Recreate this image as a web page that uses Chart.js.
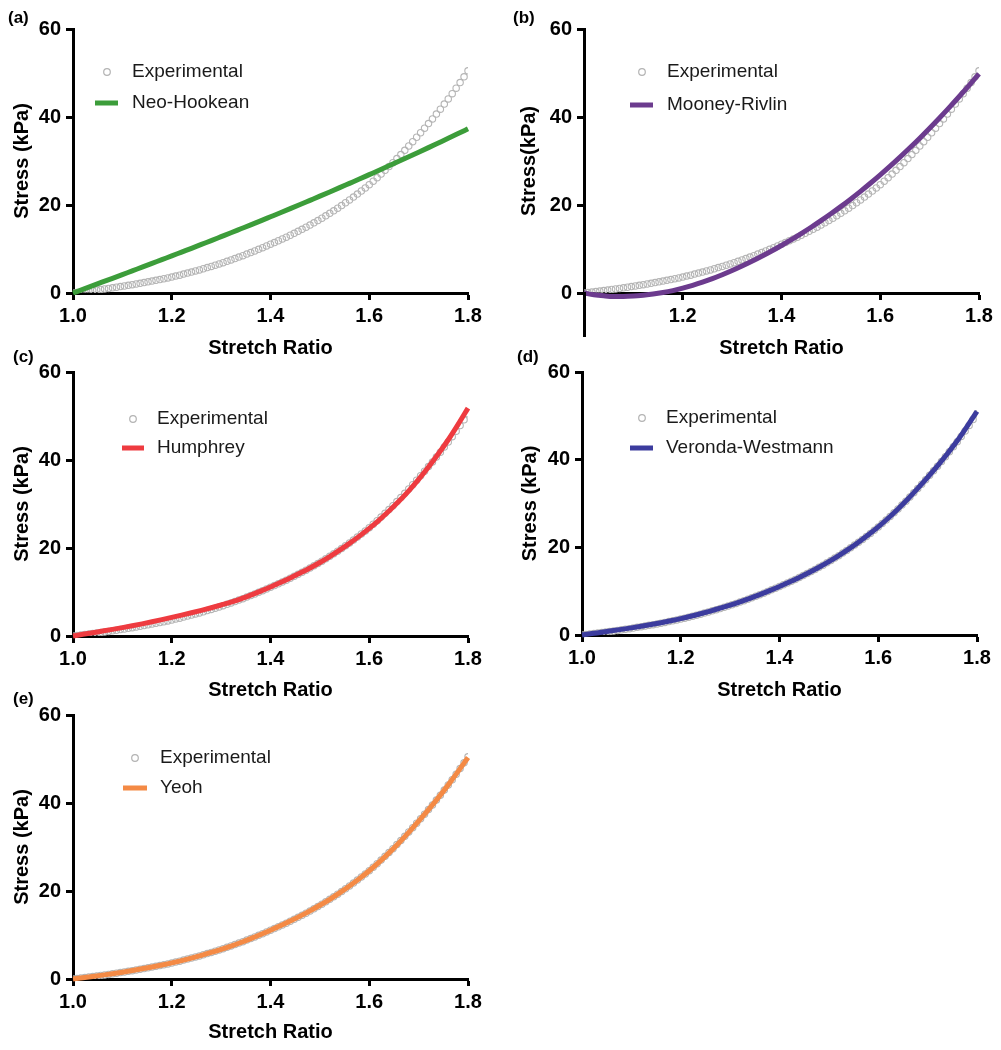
<!DOCTYPE html>
<html>
<head>
<meta charset="utf-8">
<script src="https://cdn.jsdelivr.net/npm/chart.js@4.4.1/dist/chart.umd.min.js"></script>
<style>
html,body{margin:0;padding:0;background:#fff;}
body{width:1001px;height:1050px;position:relative;overflow:hidden;font-family:"Liberation Sans",Arial,Helvetica,sans-serif;}
canvas{position:absolute;}
.lbl{position:absolute;font-weight:bold;font-size:17px;color:#000;line-height:20px;}
</style>
</head>
<body>
<canvas id="ca" width="490" height="360" style="left:0px;top:0px"></canvas>
<canvas id="cb" width="501" height="360" style="left:500px;top:0px"></canvas>
<canvas id="cc" width="490" height="362" style="left:0px;top:340px"></canvas>
<canvas id="cd" width="501" height="362" style="left:500px;top:340px"></canvas>
<canvas id="ce" width="490" height="364" style="left:0px;top:680px"></canvas>
<div class="lbl" style="left:8px;top:8px">(a)</div>
<div class="lbl" style="left:513px;top:8px">(b)</div>
<div class="lbl" style="left:13px;top:347px">(c)</div>
<div class="lbl" style="left:517px;top:347px">(d)</div>
<div class="lbl" style="left:13px;top:689px">(e)</div>
<script>
// ---------------- DATA ----------------
const stretchExp = [1.000,1.008,1.016,1.024,1.032,1.040,1.048,1.056,1.064,1.072,1.080,1.088,1.096,1.104,1.112,1.120,1.128,1.136,1.144,1.152,1.160,1.168,1.176,1.184,1.192,1.200,1.208,1.216,1.224,1.232,1.240,1.248,1.256,1.264,1.272,1.280,1.288,1.296,1.304,1.312,1.320,1.328,1.336,1.344,1.352,1.360,1.368,1.376,1.384,1.392,1.400,1.408,1.416,1.424,1.432,1.440,1.448,1.456,1.464,1.472,1.480,1.488,1.496,1.504,1.512,1.520,1.528,1.536,1.544,1.552,1.560,1.568,1.576,1.584,1.592,1.600,1.608,1.616,1.624,1.632,1.640,1.648,1.656,1.664,1.672,1.680,1.688,1.696,1.704,1.712,1.720,1.728,1.736,1.744,1.752,1.760,1.768,1.776,1.784,1.792,1.800];
const stressExp = [0,0.10,0.21,0.32,0.43,0.55,0.67,0.79,0.91,1.04,1.17,1.31,1.45,1.59,1.74,1.89,2.04,2.20,2.36,2.53,2.70,2.88,3.06,3.24,3.43,3.63,3.84,4.06,4.29,4.52,4.76,5.01,5.25,5.51,5.77,6.05,6.33,6.60,6.90,7.20,7.52,7.83,8.16,8.49,8.84,9.19,9.55,9.92,10.30,10.69,11.09,11.47,11.87,12.28,12.69,13.13,13.56,14.01,14.47,14.95,15.43,15.94,16.46,16.99,17.54,18.10,18.68,19.27,19.88,20.51,21.15,21.81,22.48,23.18,23.89,24.62,25.41,26.21,27.03,27.87,28.74,29.63,30.54,31.47,32.43,33.41,34.39,35.40,36.42,37.45,38.50,39.57,40.66,41.78,42.93,44.10,45.31,46.55,47.82,49.14,50.50];
const stretchFit = [1.00,1.02,1.04,1.06,1.08,1.10,1.12,1.14,1.16,1.18,1.20,1.22,1.24,1.26,1.28,1.30,1.32,1.34,1.36,1.38,1.40,1.42,1.44,1.46,1.48,1.50,1.52,1.54,1.56,1.58,1.60,1.62,1.64,1.66,1.68,1.70,1.72,1.74,1.76,1.78,1.80];
const neoHookean = [0,0.83,1.67,2.51,3.34,4.18,5.03,5.87,6.72,7.58,8.43,9.30,10.16,11.04,11.91,12.80,13.69,14.59,15.49,16.40,17.32,18.24,19.17,20.11,21.06,22.01,22.97,23.94,24.92,25.90,26.90,27.90,28.91,29.93,30.96,31.99,33.04,34.10,35.16,36.23,37.31];
const mooneyRivlin = [0,-0.40,-0.65,-0.80,-0.80,-0.70,-0.50,-0.25,0.10,0.55,1.10,1.75,2.47,3.27,4.15,5.10,6.12,7.20,8.34,9.54,10.80,12.12,13.50,14.94,16.44,18.00,19.63,21.33,23.10,24.94,26.85,28.83,30.88,33.00,35.19,37.45,39.78,42.18,44.65,47.19,49.80];
const humphrey = [0,0.38,0.75,1.12,1.50,1.90,2.32,2.76,3.23,3.72,4.23,4.74,5.28,5.84,6.43,7.05,7.70,8.45,9.30,10.20,11.15,12.15,13.20,14.30,15.45,16.70,18.05,19.50,21.05,22.70,24.45,26.35,28.40,30.60,33.00,35.60,38.40,41.40,44.60,48.10,51.80];
const verondaWestmann = [0,0.32,0.63,0.95,1.28,1.63,2.00,2.39,2.81,3.26,3.74,4.27,4.85,5.46,6.11,6.81,7.56,8.36,9.21,10.12,11.08,12.08,13.14,14.26,15.45,16.73,18.11,19.59,21.17,22.86,24.66,26.63,28.76,31.02,33.44,35.96,38.58,41.35,44.30,47.60,51.00];
const yeoh = [0,0.28,0.57,0.88,1.20,1.55,1.92,2.31,2.73,3.18,3.66,4.19,4.76,5.37,6.03,6.73,7.49,8.30,9.17,10.10,11.08,12.09,13.16,14.29,15.49,16.76,18.12,19.58,21.14,22.81,24.60,26.55,28.66,30.92,33.33,35.86,38.48,41.22,44.12,47.18,50.35];
const xTicks = [1.0,1.2,1.4,1.6,1.8];
const yTicks = [0,20,40,60];
const modelNames = ['Neo-Hookean','Mooney-Rivlin','Humphrey','Veronda-Westmann','Yeoh'];
const expLabel = 'Experimental';
const xTitle = 'Stretch Ratio';
const yTitles = ['Stress (kPa)','Stress(kPa)','Stress (kPa)','Stress (kPa)','Stress (kPa)'];

// ---------------- RENDER ----------------
const FONT = '"Liberation Sans", Arial, Helvetica, sans-serif';
function pts(xs, ys){ return xs.map((x,i)=>({x:x, y:ys[i]})); }

const legendPlugin = {
  id:'customLegend',
  afterDraw(chart, args, o){
    const ctx = chart.ctx;
    ctx.save();
    ctx.strokeStyle = '#b3b3b3'; ctx.lineWidth = 1.2;
    ctx.beginPath(); ctx.arc(o.cx, o.y1, 3.3, 0, Math.PI*2); ctx.stroke();
    ctx.fillStyle = chart.data.datasets[0].borderColor;
    ctx.fillRect(o.lx1, o.y2 - 2.5, o.lx2 - o.lx1, 5);
    ctx.font = '19px ' + FONT; ctx.fillStyle = '#1a1a1a'; ctx.textBaseline = 'middle'; ctx.textAlign='left';
    ctx.fillText(chart.data.datasets[1].label, o.tx, o.y1);
    ctx.fillText(chart.data.datasets[0].label, o.tx, o.y2);
    ctx.restore();
  }
};
const axisExtend = {
  id:'axisExtend',
  afterDraw(chart, args, o){
    if (o.to === undefined || o.to === null) return;
    const ctx = chart.ctx, ys = chart.scales.y;
    const x = Math.round(chart.chartArea.left - 1.5) + 1.5;
    ctx.save(); ctx.strokeStyle = '#000'; ctx.lineWidth = 3;
    ctx.beginPath(); ctx.moveTo(x, chart.chartArea.bottom - 1); ctx.lineTo(x, ys.getPixelForValue(o.to)); ctx.stroke();
    ctx.restore();
  }
};

function makeChart(id, i, c){
  const tickFont = {size:20, weight:'bold', family:FONT};
  return new Chart(document.getElementById(id), {
    type:'scatter',
    data:{datasets:[
      {label:modelNames[i], data:pts(stretchFit, c.fit), showLine:true, borderColor:c.color, backgroundColor:c.color,
       borderWidth:5, pointRadius:0, cubicInterpolationMode:'monotone', order:0, clip:false},
      {label:expLabel, data:pts(stretchExp, stressExp), showLine:false, pointRadius:3.2, pointBorderWidth:1.1,
       pointBorderColor:'#b5b5b5', pointBackgroundColor:'rgba(255,255,255,0)', order:1}
    ]},
    options:{
      responsive:false, animation:false, events:[],
      layout:{padding:{top:c.padTop, right:c.padRight, left:0, bottom:0}},
      plugins:{legend:{display:false}, tooltip:{enabled:false}, customLegend:c.legend, axisExtend:{to:c.extendTo}},
      scales:{
        x:{type:'linear', min:1, max:1.8,
          afterBuildTicks:s=>{ s.ticks = xTicks.map(v=>({value:v})); },
          afterFit:s=>{ s.height = c.xH; },
          ticks:{font:tickFont, color:'#000', padding:4, maxRotation:0, autoSkip:false,
            callback:v=> (c.hideFirst && v===1) ? '' : Number(v).toFixed(1)},
          grid:{drawOnChartArea:false, tickLength:7, tickWidth:3, tickColor:'#000'},
          border:{color:'#000', width:3},
          title:{display:true, text:xTitle, font:tickFont, color:'#000', padding:{top:0,bottom:0}}
        },
        y:{type:'linear', min:0, max:60,
          afterBuildTicks:s=>{ s.ticks = yTicks.map(v=>({value:v})); },
          afterFit:s=>{ s.width = c.yW; },
          ticks:{font:tickFont, color:'#000', padding:5, callback:v=>String(v)},
          grid:{drawOnChartArea:false, tickLength:7, tickWidth:3, tickColor:'#000'},
          border:{color:'#000', width:3},
          title:{display:true, text:yTitles[i], font:tickFont, color:'#000', padding:{top:c.yTitlePad,bottom:0}}
        }
      }
    },
    plugins:[legendPlugin, axisExtend]
  });
}

makeChart('ca', 0, {fit:neoHookean, color:'#3c9d3a', padTop:29, padRight:22, yW:73, xH:67, yTitlePad:10,
  legend:{cx:107, y1:72, tx:132, y2:103, lx1:95, lx2:118}});
makeChart('cb', 1, {fit:mooneyRivlin, color:'#6c3b8e', padTop:29, padRight:22, yW:84, xH:67, yTitlePad:17.5, hideFirst:true, extendTo:-10,
  legend:{cx:142, y1:72, tx:167, y2:105, lx1:130, lx2:153}});
makeChart('cc', 2, {fit:humphrey, color:'#ee3b40', padTop:32, padRight:22, yW:73, xH:66, yTitlePad:10,
  legend:{cx:133, y1:79, tx:157, y2:108, lx1:122, lx2:144}});
makeChart('cd', 3, {fit:verondaWestmann, color:'#3c3c9e', padTop:32, padRight:24, yW:82, xH:67, yTitlePad:18,
  legend:{cx:142, y1:78, tx:166, y2:108, lx1:130, lx2:153}});
makeChart('ce', 4, {fit:yeoh, color:'#f48a45', padTop:35, padRight:22, yW:73, xH:65, yTitlePad:10,
  legend:{cx:135, y1:78, tx:160, y2:108, lx1:123, lx2:147}});
</script>
</body>
</html>
